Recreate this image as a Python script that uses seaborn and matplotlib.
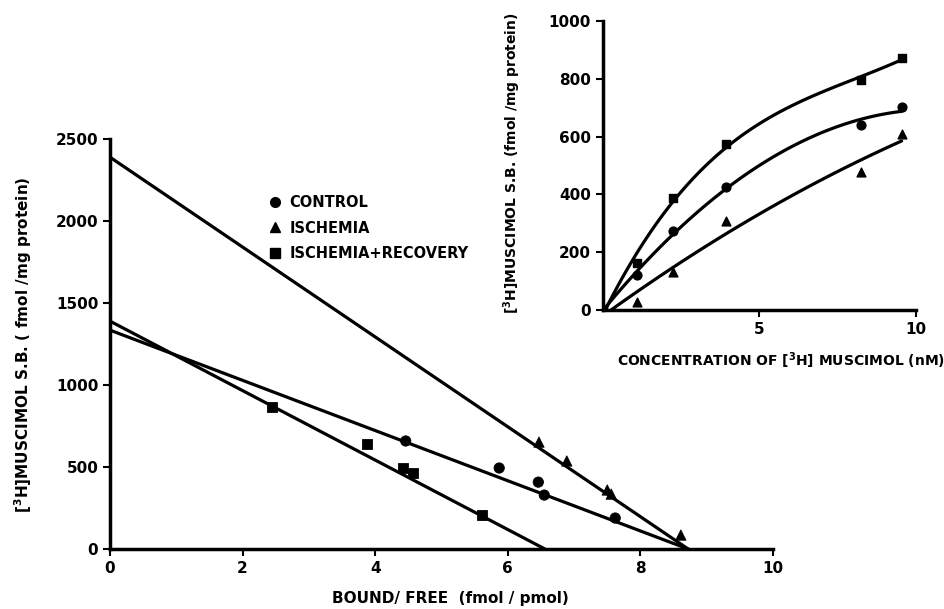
import numpy as np
import pandas as pd
from matplotlib import pyplot as plt
import seaborn as sns
from matplotlib.lines import Line2D

# --- Scatchard plot (main) ---
ctrl_bf = [4.46, 5.87, 6.46, 6.55, 7.62]
ctrl_b = [659, 494, 408, 329, 189]
isch_bf = [6.47, 6.89, 7.50, 7.56, 8.61]
isch_b = [652, 537, 360, 335, 85]
rec_bf = [2.44, 3.88, 4.42, 4.57, 5.61]
rec_b = [866, 640, 494, 463, 207]

# regression lines: y intercept (Bmax) and x intercept
line_names = ['CONTROL', 'ISCHEMIA', 'ISCHEMIA+RECOVERY']
line_bmax = [1335, 2390, 1390]
line_xint = [8.72, 8.72, 6.56]

# --- saturation curve (inset) ---
conc = [0, 1.08, 2.25, 3.95, 8.26, 9.55]
sat_ctrl = [0, 120, 274, 427, 640, 701]
sat_isch = [0, 29, 133, 309, 479, 609]
sat_rec = [0, 161, 389, 574, 796, 873]

markers = {'CONTROL': 'o', 'ISCHEMIA': '^', 'ISCHEMIA+RECOVERY': 's'}

sns.set_style('ticks')
plt.rcParams['font.family'] = ['DejaVu Sans']
plt.rcParams['font.weight'] = 'bold'
for k in ['text.color', 'axes.labelcolor', 'xtick.color', 'ytick.color',
          'axes.edgecolor']:
    plt.rcParams[k] = 'black'

fig = plt.figure(figsize=(9.45, 6.09), dpi=100)
ax = fig.add_axes([0.1164, 0.0985, 0.7016, 0.673])

df = pd.DataFrame({
    'bf': ctrl_bf + isch_bf + rec_bf,
    'b': ctrl_b + isch_b + rec_b,
    'cond': ['CONTROL'] * 5 + ['ISCHEMIA'] * 5 + ['ISCHEMIA+RECOVERY'] * 5,
})

for name, bmax, xint in zip(line_names, line_bmax, line_xint):
    sns.lineplot(x=[0, xint], y=[bmax, 0], color='black', lw=2.3, ax=ax)

sns.scatterplot(data=df, x='bf', y='b', style='cond', markers=markers,
                color='black', s=55, edgecolor='black', legend=False, ax=ax,
                zorder=3)

ax.set_xlim(0, 10)
ax.set_ylim(0, 2500)
ax.set_xticks([0, 2, 4, 6, 8, 10])
ax.set_yticks([0, 500, 1000, 1500, 2000, 2500])
ax.set_xlabel('')
ax.set_ylabel('')
for s in ['left', 'bottom']:
    ax.spines[s].set_linewidth(2.5)
sns.despine(ax=ax)
ax.tick_params(width=1.5, length=5, labelsize=11)
ax.margins(0)

handles = [Line2D([], [], ls='', marker=markers[n], color='black', markersize=7)
           for n in line_names]
ax.legend(handles, line_names, loc='upper left', bbox_to_anchor=(0.22, 0.895),
          frameon=False, handlelength=0.8, handletextpad=0.6, labelspacing=0.7,
          prop={'size': 10.5, 'weight': 'bold'})

fig.text(0.477, 0.018, 'BOUND/ FREE  (fmol / pmol)', ha='center', va='center',
         fontsize=11, fontweight='bold')
fig.text(0.024, 0.434, '[$^3$H]MUSCIMOL S.B. ( fmol /mg protein)', rotation=90,
         ha='center', va='center', fontsize=11, fontweight='bold')

# --- inset ---
ax2 = fig.add_axes([0.638, 0.491, 0.331, 0.4745])
for y, m, order in [(sat_ctrl, 'o', 2), (sat_isch, '^', 2), (sat_rec, 's', 3)]:
    sns.regplot(x=conc, y=y, order=order, ci=None, truncate=True, ax=ax2,
                marker=m, color='black',
                scatter_kws={'s': 40, 'zorder': 3, 'alpha': 1},
                line_kws={'lw': 2.3})

ax2.set_xlim(0, 10)
ax2.set_ylim(0, 1000)
ax2.set_xticks([5, 10])
ax2.set_yticks([0, 200, 400, 600, 800, 1000])
for s in ['left', 'bottom']:
    ax2.spines[s].set_linewidth(2.5)
sns.despine(ax=ax2)
ax2.tick_params(width=1.5, length=5, labelsize=11)

fig.text(0.826, 0.407, 'CONCENTRATION OF [$^3$H] MUSCIMOL (nM)', ha='center',
         va='center', fontsize=10, fontweight='bold')
fig.text(0.542, 0.732, '[$^3$H]MUSCIMOL S.B. (fmol /mg protein)', rotation=90,
         ha='center', va='center', fontsize=10, fontweight='bold')

fig.savefig('out.png', dpi=100)
